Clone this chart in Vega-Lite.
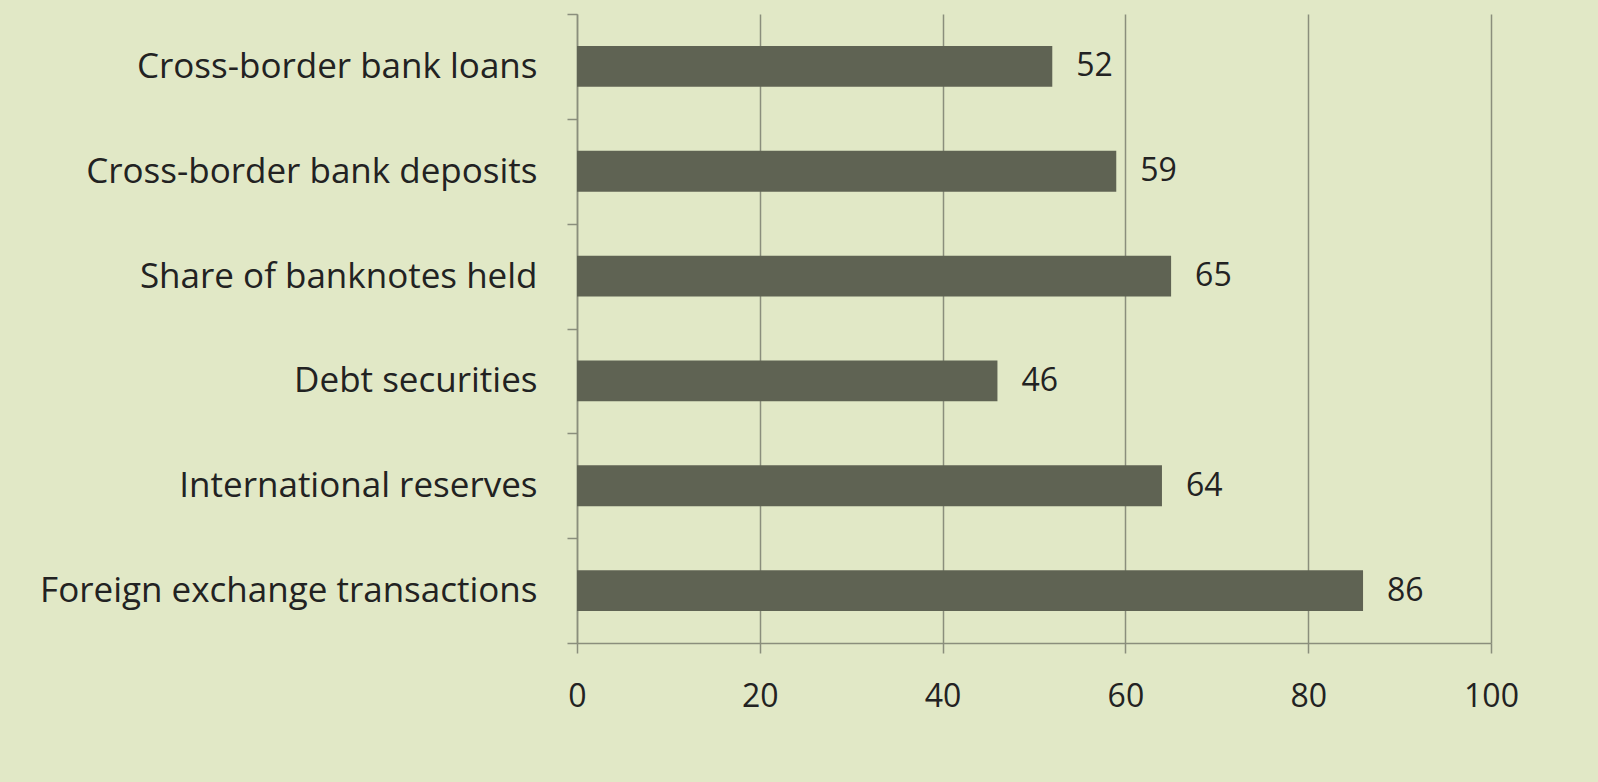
{
  "$schema": "https://vega.github.io/schema/vega-lite/v6.json",
  "width": 914,
  "height": 629,
  "autosize": {"type": "none"},
  "padding": {"left": 577, "top": 14, "right": 107, "bottom": 139},
  "background": "#e1e8c6",
  "config": {
    "view": {"stroke": null},
    "font": "Open Sans"
  },
  "data": {
    "values": [
      {"category": "Cross-border bank loans", "value": 52},
      {"category": "Cross-border bank deposits", "value": 59},
      {"category": "Share of banknotes held", "value": 65},
      {"category": "Debt securities", "value": 46},
      {"category": "International reserves", "value": 64},
      {"category": "Foreign exchange transactions", "value": 86}
    ]
  },
  "encoding": {
    "y": {
      "field": "category",
      "type": "nominal",
      "sort": null,
      "scale": {"paddingInner": 0, "paddingOuter": 0},
      "axis": {
        "title": null,
        "tickBand": "extent",
        "tickSize": 10,
        "tickColor": "#8a8e7c",
        "tickWidth": 1.5,
        "domainColor": "#8a8e7c",
        "domainWidth": 1.5,
        "labelFont": "Open Sans",
        "labelFontSize": 35,
        "labelColor": "#222222",
        "labelPadding": 30,
        "labelLimit": 0,
        "grid": false
      }
    },
    "x": {
      "field": "value",
      "type": "quantitative",
      "scale": {"domain": [0, 100], "nice": false},
      "axis": {
        "title": null,
        "values": [0, 20, 40, 60, 80, 100],
        "tickSize": 10,
        "tickColor": "#8a8e7c",
        "tickWidth": 1.5,
        "domainColor": "#8a8e7c",
        "domainWidth": 1.5,
        "grid": true,
        "gridColor": "#8a8e7c",
        "gridWidth": 1.5,
        "labelFont": "Open Sans",
        "labelFontSize": 32,
        "labelColor": "#222222",
        "labelPadding": 28,
        "labelFlush": false
      }
    }
  },
  "layer": [
    {"mark": {"type": "bar", "color": "#5f6353", "height": {"band": 0.39}}},
    {
      "mark": {"type": "text", "align": "left", "baseline": "middle", "dx": 24, "fontSize": 32, "color": "#222222", "font": "Open Sans"},
      "encoding": {"text": {"field": "value", "type": "quantitative"}}
    }
  ]
}
